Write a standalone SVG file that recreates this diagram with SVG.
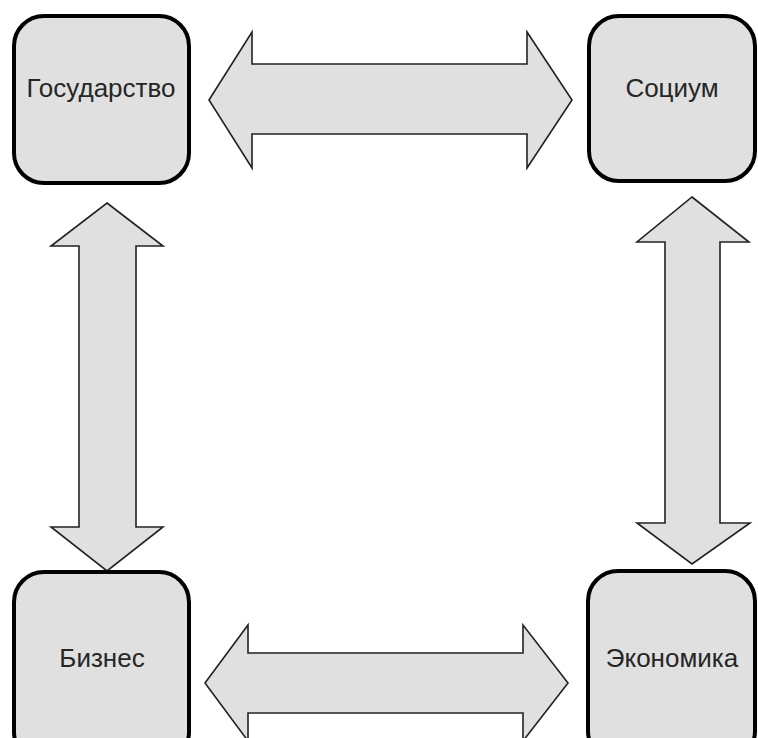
<svg xmlns="http://www.w3.org/2000/svg" width="758" height="738" viewBox="0 0 758 738">
<style>
.box{fill:#e0e0e0;stroke:#000;stroke-width:4}
.arr{fill:#e0e0e0;stroke:#222;stroke-width:1.6;stroke-linejoin:miter}
.lbl{font-family:"Liberation Sans",Arial,sans-serif;font-size:26px;fill:#262626;text-anchor:middle}
</style>
<rect width="758" height="738" fill="#fff"/>
<g id="connectors">
<polygon class="arr" points="209,100 252,32 252,64 527,64 527,32 572,100 527,168 527,134 252,134 252,168"/>
<polygon class="arr" points="205,683 248,625 248,653 523,653 523,625 568,683 523,741 523,713 248,713 248,741"/>
<polygon class="arr" points="107,203 163,246 136,246 136,527 163,527 107,571 51,527 79,527 79,246 51,246"/>
<polygon class="arr" points="692,197 749,242 720,242 720,523 750,523 692,564 637,523 665,523 665,242 637,242"/>
</g>
<g id="gosudarstvo">
<rect class="box" x="14" y="16" width="175" height="167" rx="30"/>
<text class="lbl" x="101" y="97">Государство</text>
</g>
<g id="socium">
<rect class="box" x="589" y="16" width="166" height="165" rx="30"/>
<text class="lbl" x="672" y="97">Социум</text>
</g>
<g id="biznes">
<rect class="box" x="14" y="572" width="175" height="190" rx="30"/>
<text class="lbl" x="102" y="667">Бизнес</text>
</g>
<g id="ekonomika">
<rect class="box" x="588" y="571" width="167" height="190" rx="30"/>
<text class="lbl" x="672" y="667">Экономика</text>
</g>
</svg>
